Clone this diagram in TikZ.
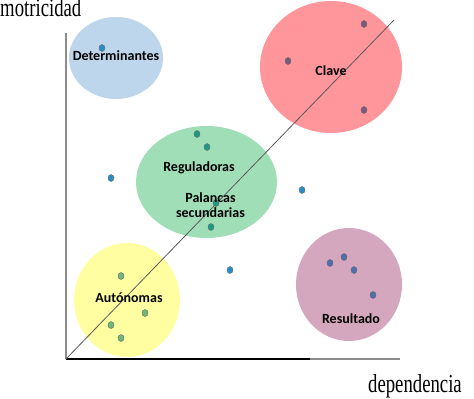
\documentclass[tikz,border=0pt]{standalone}
\usepackage{fontspec}
\setmainfont{Liberation Serif}
\newfontfamily\lblfont{Carlito}
\usetikzlibrary{shapes.geometric}
\definecolor{cBlue}{RGB}{189,214,236}
\definecolor{cRed}{RGB}{255,150,155}
\definecolor{cGreen}{RGB}{160,222,184}
\definecolor{cYellow}{RGB}{255,255,162}
\definecolor{cMauve}{RGB}{213,167,190}
\definecolor{dBlue}{RGB}{40,140,200}
\definecolor{dPurple}{RGB}{123,90,128}
\definecolor{dTeal}{RGB}{26,154,132}
\definecolor{dGreen}{RGB}{110,184,122}
\definecolor{dRes}{RGB}{75,111,176}
\tikzset{
  zone/.style={ellipse, draw=none, inner sep=0pt},
  lbl/.style={font=\lblfont\bfseries\fontsize{14}{15}\selectfont, inner sep=0pt, align=center},
  dot/.style={ellipse, draw=black!60, line width=0.4pt, minimum width=6pt, minimum height=7pt, inner sep=0pt},
  axislbl/.style={font=\fontsize{26}{28}\selectfont, inner sep=0pt}
}
\begin{document}
\begin{tikzpicture}[x=1pt,y=-1pt]
\useasboundingbox (0,0) rectangle (474,399);
% zones
\node[zone, fill=cBlue, minimum width=94pt, minimum height=82pt] (zDet) at (116,58) {};
\node[zone, fill=cRed, minimum width=142pt, minimum height=132pt] (zClave) at (331,67) {};
\node[zone, fill=cGreen, minimum width=141pt, minimum height=112pt] (zReg) at (206.5,182) {};
\node[zone, fill=cYellow, minimum width=106pt, minimum height=114pt] (zAut) at (127,300) {};
\node[zone, fill=cMauve, minimum width=106pt, minimum height=113pt] (zRes) at (349,284.5) {};
% axes
\coordinate (O) at (66,359);
\coordinate (Ytop) at (66,33);
\coordinate (Xmid) at (310,359);
\coordinate (Xend) at (400,359);
\coordinate (Dend) at (394,20);
\draw[line width=1.2pt, black!45] (O) -- (Ytop);
\draw[line width=1.4pt, black] (O) -- (Xmid);
\draw[line width=1.4pt, black!45] (Xmid) -- (Xend);
\draw[line width=0.8pt, black!65] (O) -- (Dend);
% axis labels
\node[axislbl, anchor=base west] (ylab) at (0,16) {\scalebox{0.72}[1]{motricidad}};
\node[axislbl, anchor=base west] (xlab) at (368,392) {\scalebox{0.72}[1]{dependencia}};
% dots
\node[dot, fill=dBlue] (d1) at (102,48) {};
\node[dot, fill=dBlue] (d2) at (111,178) {};
\node[dot, fill=dBlue] (d3) at (302,190) {};
\node[dot, fill=dBlue] (d4) at (230,270) {};
\node[dot, fill=dPurple] (c1) at (364,24) {};
\node[dot, fill=dPurple] (c2) at (288,61) {};
\node[dot, fill=dPurple] (c3) at (364,110) {};
\node[dot, fill=dTeal] (r1) at (197,134) {};
\node[dot, fill=dTeal] (r2) at (207,147) {};
\node[dot, fill=dTeal] (r3) at (216,203) {};
\node[dot, fill=dTeal] (r4) at (211,227) {};
\node[dot, fill=dGreen] (a1) at (121,276) {};
\node[dot, fill=dGreen] (a2) at (145,313) {};
\node[dot, fill=dGreen] (a3) at (111,325) {};
\node[dot, fill=dGreen] (a4) at (121,338) {};
\node[dot, fill=dRes] (s1) at (330,263) {};
\node[dot, fill=dRes] (s2) at (344,257) {};
\node[dot, fill=dRes] (s3) at (354,270) {};
\node[dot, fill=dRes] (s4) at (373,295) {};
% labels
\node[lbl] (tDet) at (116,56) {Determinantes};
\node[lbl] (tClave) at (331,71) {Clave};
\node[lbl] (tReg) at (199,168) {Reguladoras};
\node[lbl] (tPal) at (210.5,205.5) {Palancas\\secundarias};
\node[lbl] (tAut) at (129,298) {Autónomas};
\node[lbl] (tRes) at (351,319) {Resultado};
\end{tikzpicture}
\end{document}
